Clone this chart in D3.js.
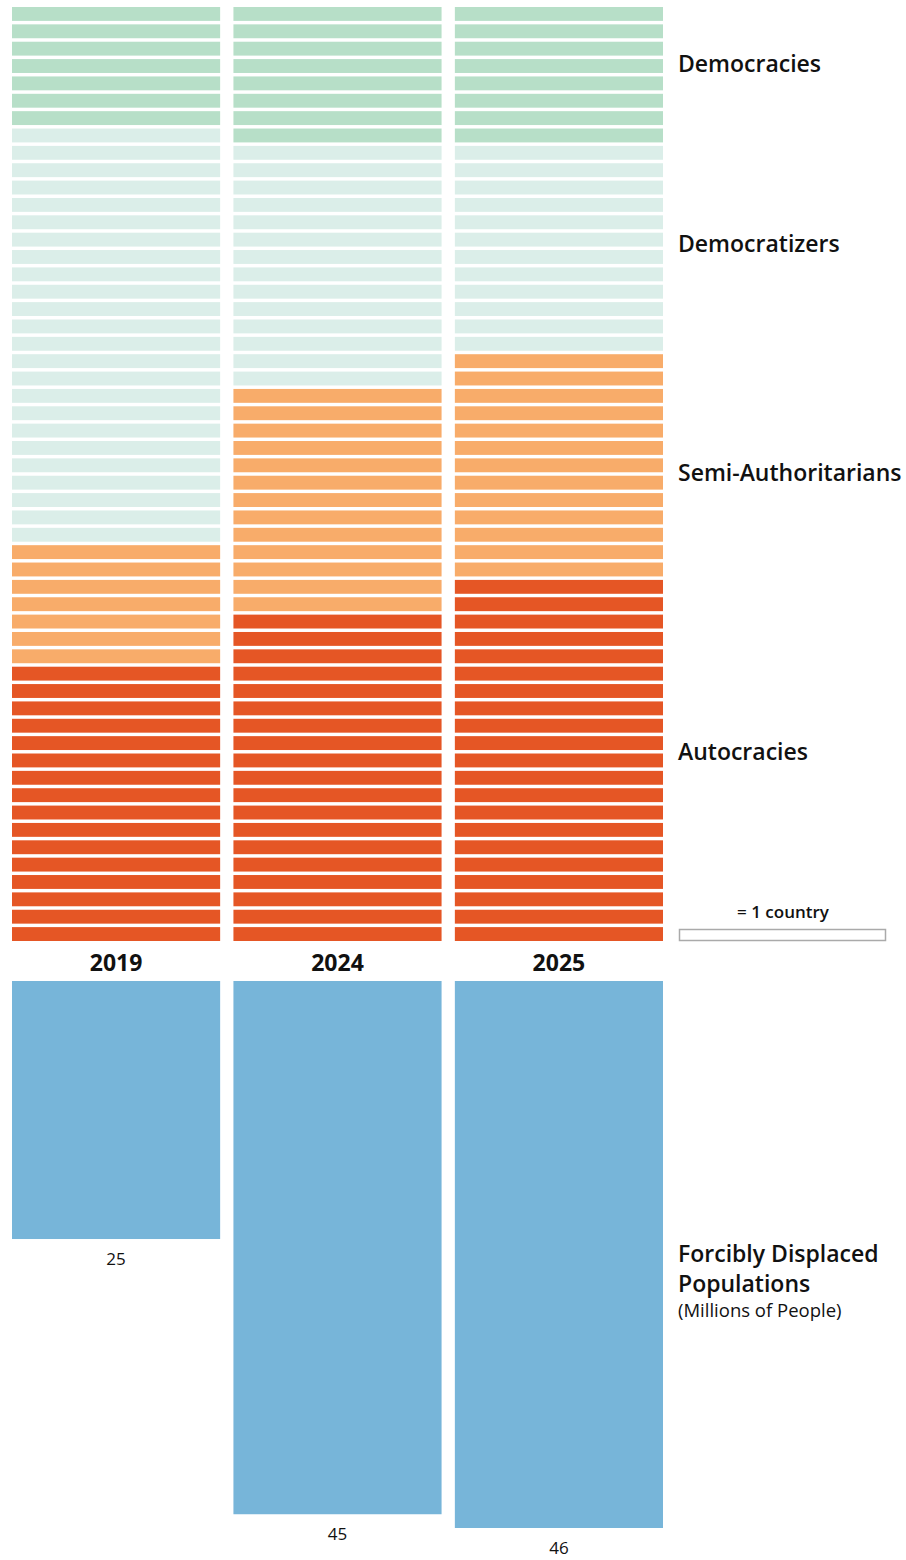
<!DOCTYPE html>
<html>
<head>
<meta charset="utf-8">
<script src="https://cdn.jsdelivr.net/npm/d3@7"></script>
<style>
  body { margin: 0; background: #fff; }
  text { font-family: "Open Sans", "Noto Sans", sans-serif; fill: #111; }
</style>
</head>
<body>
<div id="graphic"></div>
<script>
// countries per regime type, by year (one bar = one country)
const years = ["2019", "2024", "2025"];
const categories = ["Democracies", "Democratizers", "Semi-Authoritarians", "Autocracies"];
const democracies = [7, 8, 8];
const democratizers = [24, 14, 12];
const semiAuthoritarians = [7, 13, 13];
const autocracies = [16, 19, 21];
// forcibly displaced populations, millions of people
const displaced = [25, 45, 46];

const colors = ["#b7dfc8", "#dbeee9", "#f8ac6a", "#e55625"];
const blue = "#77b5d9";

// build one row per country, top to bottom
const counts = [democracies, democratizers, semiAuthoritarians, autocracies];
const cells = [];
years.forEach(function(year, yi){
  let row = 0;
  counts.forEach(function(series, ci){
    for (let k = 0; k < series[yi]; k++) {
      cells.push({ year: year, cat: categories[ci], row: row });
      row++;
    }
  });
});
const nRows = d3.max(years.map((y, i) => counts.reduce((s, c) => s + c[i], 0)));

const chart = {
  width: 906,
  height: 1560,
  el: "#graphic",
  createScales(){
    this.xScale = d3.scaleBand()
      .domain(years)
      .range([12, 663])
      .paddingInner(0.06);

    this.rowScale = d3.scaleBand()
      .domain(d3.range(nRows))
      .range([7, 941])
      .paddingInner(0.2);

    this.colorScale = d3.scaleOrdinal()
      .domain(categories)
      .range(colors);

    // displaced bars hang down from the year labels
    this.hScale = d3.scaleLinear()
      .domain([6.25, 46])
      .range([0, 547]);
  },
  drawPlot(){
    this.svg = d3.select(this.el)
      .append("svg")
      .attr("width", this.width)
      .attr("height", this.height);
  },
  drawData(){
    const that = this;

    this.svg.append("g")
      .attr("class", "countries")
      .selectAll("rect")
      .data(cells)
      .enter()
      .append("rect")
      .attr("x", d => that.xScale(d.year))
      .attr("y", d => that.rowScale(d.row))
      .attr("width", that.xScale.bandwidth())
      .attr("height", that.rowScale.bandwidth())
      .attr("fill", d => that.colorScale(d.cat));

    // year labels
    this.svg.append("g")
      .selectAll("text")
      .data(years)
      .enter()
      .append("text")
      .attr("x", d => that.xScale(d) + that.xScale.bandwidth() / 2)
      .attr("y", 971)
      .attr("text-anchor", "middle")
      .style("font-size", "23px")
      .style("font-weight", 700)
      .text(d => d);

    const top = 981;
    const bars = this.svg.append("g").attr("class", "displaced");

    bars.selectAll("rect")
      .data(displaced)
      .enter()
      .append("rect")
      .attr("x", (d, i) => that.xScale(years[i]))
      .attr("y", top)
      .attr("width", that.xScale.bandwidth())
      .attr("height", d => that.hScale(d))
      .attr("fill", blue);

    bars.selectAll("text")
      .data(displaced)
      .enter()
      .append("text")
      .attr("x", (d, i) => that.xScale(years[i]) + that.xScale.bandwidth() / 2)
      .attr("y", d => top + that.hScale(d) + 26)
      .attr("text-anchor", "middle")
      .style("font-size", "17px")
      .text(d => d);
  },
  drawLabels(){
    const labelY = [72, 252, 481, 760];
    const lab = this.svg.append("g").attr("class", "labels");

    lab.selectAll("text")
      .data(categories)
      .enter()
      .append("text")
      .attr("x", 678)
      .attr("y", (d, i) => labelY[i])
      .style("font-size", "23px")
      .style("font-weight", 600)
      .text(d => d);

    // legend
    lab.append("text")
      .attr("x", 783)
      .attr("y", 918)
      .attr("text-anchor", "middle")
      .style("font-size", "17px")
      .style("font-weight", 600)
      .text("= 1 country");

    lab.append("rect")
      .attr("x", 679.5)
      .attr("y", 929.5)
      .attr("width", 206)
      .attr("height", 11)
      .attr("fill", "#fff")
      .attr("stroke", "#aaa")
      .attr("stroke-width", 1.5);

    lab.append("text")
      .attr("x", 678)
      .attr("y", 1262)
      .style("font-size", "23px")
      .style("font-weight", 600)
      .text("Forcibly Displaced");

    lab.append("text")
      .attr("x", 678)
      .attr("y", 1292)
      .style("font-size", "23px")
      .style("font-weight", 600)
      .text("Populations");

    lab.append("text")
      .attr("x", 678)
      .attr("y", 1317)
      .style("font-size", "18.5px")
      .text("(Millions of People)");
  },
  draw(){
    this.createScales();
    this.drawPlot();
    this.drawData();
    this.drawLabels();
  }
};

chart.draw();
</script>
</body>
</html>
